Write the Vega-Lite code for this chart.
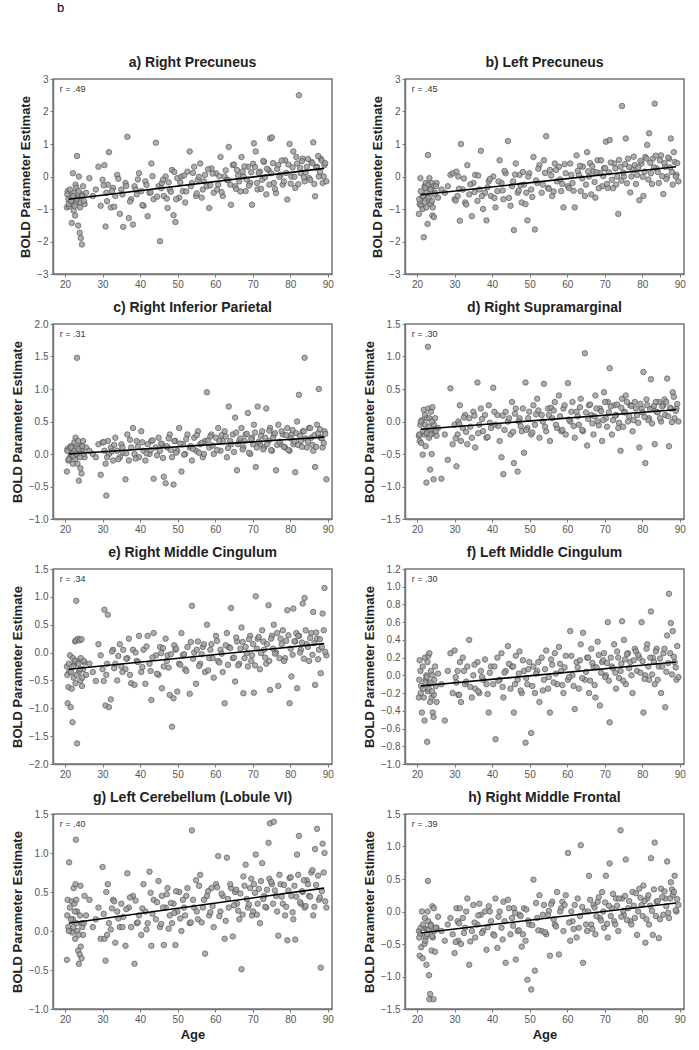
{
"$schema":"https://vega.github.io/schema/vega-lite/v6.json",
"autosize":{"type":"pad"},
"padding":{"left":10,"top":2,"right":0,"bottom":0},
"background":"white",
"title":{"text":"b","anchor":"start","frame":"group","dx":4,"offset":40,"fontSize":13,"fontWeight":"normal","font":"Liberation Sans","color":"#000000"},
"config":{
"font":"Liberation Sans",
"view":{"stroke":"#777777","strokeWidth":1.5},
"axis":{"domainColor":"#777777","domainWidth":1.5,"tickColor":"#777777","tickSize":3,"labelFont":"Liberation Sans","labelFontSize":10,"labelColor":"#555555","labelPadding":2,"labelOverlap":false,"titleFont":"Liberation Sans","titleFontSize":13,"titleFontWeight":"bold","titleColor":"#222222","titlePadding":4,"grid":false},
"axisX":{"values":[20,30,40,50,60,70,80,90]},
"title":{"font":"Liberation Sans","fontSize":14,"fontWeight":"bold","color":"#222222","offset":4,"anchor":"middle"}
},
"datasets":{
"stats":[{"ra":"r = .49","rb":"r = .45","rc":"r = .31","rd":"r = .30","re":"r = .34","rf":"r = .30","rg":"r = .40","rh":"r = .39"}],
"fits":[{"age":21,"a":-0.70,"b":-0.56,"c":0.0,"d":-0.12,"e":-0.30,"f":-0.12,"g":0.10,"h":-0.33},{"age":89,"a":0.25,"b":0.30,"c":0.26,"d":0.18,"e":0.16,"f":0.15,"g":0.55,"h":0.13}],
"subjects":[
{"age":20.5,"a":-0.95,"b":-1.15,"c":-0.27,"d":-0.22,"e":-0.25,"f":-0.25,"g":-0.37,"h":-0.30},
{"age":20.7,"a":-0.45,"b":-0.85,"c":0.08,"d":-0.30,"e":-0.91,"f":0.17,"g":0.40,"h":-0.68},
{"age":20.9,"a":-0.70,"b":-0.05,"c":-0.10,"d":-0.05,"e":-0.62,"f":0.05,"g":0.05,"h":-0.35},
{"age":21.1,"a":-0.92,"b":-0.90,"c":0.05,"d":-0.33,"e":-0.35,"f":-0.12,"g":0.88,"h":-0.55},
{"age":21.3,"a":-0.40,"b":-0.65,"c":-0.05,"d":0.02,"e":-0.05,"f":-0.42,"g":0.30,"h":0.00},
{"age":21.5,"a":-0.60,"b":-1.00,"c":0.12,"d":-0.51,"e":-0.98,"f":0.10,"g":0.00,"h":-0.72},
{"age":21.8,"a":-1.43,"b":-1.87,"c":-0.02,"d":0.18,"e":-0.65,"f":-0.25,"g":0.38,"h":-0.25},
{"age":22.0,"a":-0.85,"b":-0.30,"c":0.10,"d":-0.20,"e":-1.25,"f":-0.51,"g":-0.02,"h":-0.50},
{"age":22.1,"a":0.10,"b":-0.80,"c":-0.15,"d":0.10,"e":-0.10,"f":0.20,"g":0.15,"h":-0.10},
{"age":22.3,"a":-1.05,"b":-0.20,"c":0.03,"d":-0.38,"e":-0.45,"f":-0.05,"g":0.55,"h":-0.40},
{"age":22.5,"a":-0.50,"b":-0.95,"c":0.18,"d":-0.94,"e":-0.20,"f":0.00,"g":0.35,"h":-0.82},
{"age":22.7,"a":-1.20,"b":-0.60,"c":-0.08,"d":0.05,"e":0.20,"f":-0.75,"g":-0.10,"h":-0.28},
{"age":22.8,"a":-0.25,"b":-1.46,"c":0.25,"d":-0.15,"e":-0.55,"f":0.15,"g":0.60,"h":0.00},
{"age":22.9,"a":-0.80,"b":0.66,"c":0.00,"d":1.15,"e":0.22,"f":-0.18,"g":1.17,"h":0.47},
{"age":23.0,"a":-0.35,"b":-0.25,"c":0.10,"d":0.20,"e":0.93,"f":0.22,"g":0.40,"h":-0.15},
{"age":23.2,"a":0.63,"b":-0.75,"c":1.48,"d":-0.25,"e":-1.63,"f":-0.10,"g":0.25,"h":-0.98},
{"age":23.3,"a":-0.65,"b":-0.05,"c":-0.15,"d":0.05,"e":-0.15,"f":0.25,"g":0.00,"h":-1.35},
{"age":23.5,"a":-1.51,"b":-0.40,"c":0.20,"d":-0.74,"e":0.25,"f":-0.30,"g":-0.25,"h":-1.27},
{"age":23.7,"a":0.00,"b":-0.85,"c":-0.41,"d":0.15,"e":-0.35,"f":0.05,"g":-0.42,"h":-0.20},
{"age":23.9,"a":-1.73,"b":-0.20,"c":0.05,"d":-0.50,"e":0.22,"f":-0.25,"g":-0.30,"h":-0.60},
{"age":24.1,"a":-0.80,"b":-1.20,"c":-0.22,"d":0.22,"e":-0.50,"f":0.00,"g":0.58,"h":0.08},
{"age":24.2,"a":-1.89,"b":-0.95,"c":0.12,"d":-0.18,"e":-0.10,"f":-0.42,"g":-0.20,"h":-0.40},
{"age":24.4,"a":-0.55,"b":-0.30,"c":-0.30,"d":-0.89,"e":0.24,"f":-0.47,"g":-0.35,"h":-1.35},
{"age":24.5,"a":-2.09,"b":-1.25,"c":0.08,"d":-0.05,"e":-0.60,"f":-0.22,"g":0.10,"h":0.05},
{"age":24.8,"a":-0.30,"b":-0.50,"c":0.20,"d":0.05,"e":-0.30,"f":0.10,"g":-0.05,"h":-0.62},
{"age":25.2,"a":-0.85,"b":-0.20,"c":-0.05,"d":-0.22,"e":-0.18,"f":-0.30,"g":0.45,"h":-0.25},
{"age":25.6,"a":-0.50,"b":-0.65,"c":0.10,"d":-0.10,"e":-0.40,"f":0.02,"g":0.20,"h":-0.08},
{"age":26.5,"a":-0.05,"b":-0.40,"c":0.05,"d":-0.88,"e":-0.20,"f":-0.10,"g":0.40,"h":-0.30},
{"age":27.4,"a":-0.60,"b":-0.50,"c":0.00,"d":-0.20,"e":-0.35,"f":-0.51,"g":0.05,"h":-0.45},
{"age":28.2,"a":-0.40,"b":-0.30,"c":-0.05,"d":-0.59,"e":-0.51,"f":0.05,"g":0.15,"h":-0.20},
{"age":28.9,"a":0.30,"b":0.05,"c":0.15,"d":0.51,"e":0.15,"f":0.25,"g":0.30,"h":-0.10},
{"age":29.5,"a":-0.90,"b":0.10,"c":-0.32,"d":-0.35,"e":-0.05,"f":-0.20,"g":-0.10,"h":-0.35},
{"age":30.0,"a":-0.10,"b":-0.70,"c":0.18,"d":-0.05,"e":-0.30,"f":0.28,"g":0.82,"h":-0.64},
{"age":30.5,"a":0.35,"b":0.15,"c":0.05,"d":-0.69,"e":0.77,"f":-0.08,"g":-0.10,"h":0.05},
{"age":30.8,"a":-1.54,"b":-0.60,"c":-0.15,"d":-0.20,"e":-0.95,"f":0.05,"g":-0.38,"h":-0.15},
{"age":31.0,"a":-0.50,"b":0.00,"c":-0.64,"d":0.00,"e":-0.40,"f":-0.22,"g":0.50,"h":-0.45},
{"age":31.4,"a":-0.25,"b":-1.36,"c":0.20,"d":0.25,"e":0.68,"f":0.15,"g":0.60,"h":0.05},
{"age":31.7,"a":0.75,"b":1.00,"c":0.00,"d":-0.30,"e":-0.98,"f":-0.30,"g":0.10,"h":-0.50},
{"age":32.2,"a":-0.95,"b":-0.40,"c":0.10,"d":-0.10,"e":-0.84,"f":0.20,"g":0.02,"h":-0.10},
{"age":32.8,"a":-0.35,"b":-0.80,"c":-0.10,"d":0.10,"e":0.05,"f":-0.10,"g":0.40,"h":-0.25},
{"age":33.4,"a":-0.60,"b":0.35,"c":0.25,"d":-0.35,"e":-0.20,"f":0.10,"g":-0.15,"h":0.20},
{"age":33.9,"a":0.05,"b":-0.55,"c":0.05,"d":0.05,"e":-0.50,"f":0.40,"g":0.25,"h":-0.82},
{"age":34.6,"a":-1.15,"b":-1.22,"c":-0.05,"d":-0.25,"e":0.15,"f":-0.25,"g":0.05,"h":-0.30},
{"age":35.0,"a":-0.40,"b":-0.20,"c":0.15,"d":0.15,"e":-0.25,"f":0.00,"g":0.35,"h":0.10},
{"age":35.5,"a":-1.55,"b":0.05,"c":0.02,"d":-0.40,"e":0.05,"f":-0.15,"g":0.18,"h":-0.40},
{"age":36.1,"a":-0.20,"b":-0.75,"c":-0.39,"d":0.60,"e":-0.30,"f":0.15,"g":-0.19,"h":-0.20},
{"age":36.6,"a":1.22,"b":-0.40,"c":0.30,"d":-0.05,"e":-0.10,"f":-0.20,"g":0.74,"h":0.12},
{"age":37.0,"a":-1.28,"b":0.79,"c":-0.10,"d":0.20,"e":0.25,"f":0.05,"g":0.30,"h":-0.05},
{"age":37.6,"a":-0.70,"b":-1.00,"c":0.10,"d":-0.15,"e":-0.55,"f":-0.05,"g":0.05,"h":-0.30},
{"age":38.1,"a":-1.48,"b":-0.50,"c":0.40,"d":0.10,"e":0.05,"f":0.18,"g":0.45,"h":0.00},
{"age":38.5,"a":-0.30,"b":-1.35,"c":0.00,"d":-0.25,"e":-0.58,"f":-0.10,"g":-0.42,"h":-0.59},
{"age":39.1,"a":-0.55,"b":-0.15,"c":0.20,"d":0.25,"e":-0.15,"f":-0.42,"g":0.10,"h":0.08},
{"age":39.7,"a":0.10,"b":-0.60,"c":-0.05,"d":-0.10,"e":0.30,"f":0.10,"g":0.20,"h":-0.15},
{"age":40.3,"a":-0.45,"b":0.00,"c":0.35,"d":0.52,"e":-0.35,"f":-0.10,"g":-0.05,"h":-0.35},
{"age":40.9,"a":-0.90,"b":-0.95,"c":0.05,"d":-0.05,"e":0.05,"f":-0.72,"g":0.60,"h":0.20},
{"age":41.4,"a":-0.15,"b":-0.45,"c":-0.10,"d":0.10,"e":-0.56,"f":0.20,"g":0.25,"h":-0.56},
{"age":42.0,"a":-1.22,"b":0.50,"c":0.15,"d":-0.30,"e":0.30,"f":-0.05,"g":0.10,"h":0.00},
{"age":42.5,"a":-0.50,"b":-0.20,"c":0.00,"d":-0.55,"e":-0.20,"f":0.25,"g":0.76,"h":-0.25},
{"age":43.0,"a":0.40,"b":-0.70,"c":0.20,"d":-0.81,"e":-0.85,"f":-0.25,"g":-0.19,"h":0.15},
{"age":43.6,"a":-0.70,"b":0.10,"c":-0.38,"d":0.15,"e":0.35,"f":0.05,"g":0.40,"h":-0.79},
{"age":44.2,"a":1.04,"b":1.09,"c":0.10,"d":0.00,"e":-0.05,"f":0.33,"g":0.15,"h":0.18},
{"age":44.9,"a":-0.30,"b":-0.90,"c":0.25,"d":-0.20,"e":-0.40,"f":-0.15,"g":0.64,"h":-0.35},
{"age":45.3,"a":-1.99,"b":-0.30,"c":0.05,"d":0.30,"e":0.10,"f":0.10,"g":0.05,"h":-0.10},
{"age":45.8,"a":-0.20,"b":-1.65,"c":0.15,"d":-0.64,"e":-0.64,"f":-0.42,"g":0.45,"h":0.05},
{"age":46.3,"a":-0.60,"b":0.40,"c":-0.35,"d":0.20,"e":-0.25,"f":0.22,"g":-0.18,"h":-0.74},
{"age":46.8,"a":0.00,"b":-0.50,"c":-0.45,"d":-0.77,"e":0.25,"f":-0.05,"g":0.30,"h":-0.30},
{"age":47.3,"a":-0.97,"b":0.05,"c":0.10,"d":0.05,"e":-0.05,"f":0.27,"g":0.55,"h":-0.05},
{"age":47.9,"a":-0.40,"b":-0.80,"c":0.30,"d":-0.15,"e":-0.76,"f":-0.20,"g":0.20,"h":-0.54},
{"age":48.5,"a":0.20,"b":-0.25,"c":-0.05,"d":-0.48,"e":-1.33,"f":0.05,"g":0.10,"h":0.05},
{"age":48.9,"a":-1.19,"b":-0.85,"c":-0.47,"d":0.60,"e":-0.82,"f":-0.76,"g":0.35,"h":-0.45},
{"age":49.4,"a":-1.40,"b":-1.35,"c":0.20,"d":-0.10,"e":0.05,"f":-0.10,"g":-0.18,"h":-1.05},
{"age":49.9,"a":-0.05,"b":0.10,"c":0.05,"d":0.15,"e":-0.70,"f":0.15,"g":0.25,"h":-0.20},
{"age":50.4,"a":-0.65,"b":-0.40,"c":0.40,"d":-0.20,"e":-0.20,"f":-0.65,"g":0.50,"h":-1.20},
{"age":51.0,"a":0.00,"b":0.60,"c":-0.27,"d":0.25,"e":0.35,"f":0.10,"g":0.00,"h":0.49},
{"age":51.4,"a":-0.45,"b":-1.63,"c":0.15,"d":-0.05,"e":-0.05,"f":-0.20,"g":0.40,"h":-0.91},
{"age":52.0,"a":-0.80,"b":-0.20,"c":0.00,"d":0.35,"e":-0.30,"f":0.05,"g":0.20,"h":-0.10},
{"age":52.6,"a":0.15,"b":0.35,"c":0.30,"d":-0.25,"e":0.10,"f":-0.30,"g":0.55,"h":0.25},
{"age":53.2,"a":0.77,"b":-0.50,"c":0.10,"d":0.10,"e":-0.74,"f":0.20,"g":0.10,"h":-0.30},
{"age":53.8,"a":-0.20,"b":0.50,"c":-0.10,"d":0.58,"e":0.84,"f":-0.05,"g":1.29,"h":0.10},
{"age":54.4,"a":0.30,"b":1.24,"c":0.25,"d":-0.15,"e":0.00,"f":0.28,"g":0.30,"h":-0.35},
{"age":54.9,"a":-0.60,"b":-0.35,"c":0.05,"d":0.20,"e":-0.56,"f":-0.15,"g":0.65,"h":-0.05},
{"age":55.4,"a":-0.10,"b":0.20,"c":0.35,"d":-0.30,"e":0.20,"f":-0.42,"g":0.15,"h":-0.68},
{"age":56.0,"a":0.40,"b":-0.60,"c":0.15,"d":0.05,"e":-0.20,"f":0.12,"g":0.72,"h":0.15},
{"age":56.7,"a":-0.40,"b":0.40,"c":-0.05,"d":0.30,"e":0.10,"f":0.25,"g":0.30,"h":-0.20},
{"age":57.3,"a":0.05,"b":-0.15,"c":0.20,"d":-0.10,"e":-0.35,"f":-0.10,"g":-0.29,"h":0.30},
{"age":57.8,"a":-0.30,"b":0.30,"c":0.95,"d":0.40,"e":0.50,"f":0.32,"g":0.45,"h":-0.66},
{"age":58.4,"a":-0.97,"b":-0.45,"c":0.10,"d":-0.15,"e":-0.10,"f":0.05,"g":0.20,"h":0.05},
{"age":59.0,"a":0.25,"b":-0.95,"c":0.30,"d":0.20,"e":0.15,"f":-0.20,"g":0.55,"h":-0.30},
{"age":59.6,"a":-0.50,"b":0.10,"c":0.00,"d":-0.20,"e":-0.45,"f":0.22,"g":0.05,"h":0.25},
{"age":60.2,"a":0.10,"b":-0.30,"c":0.25,"d":0.59,"e":0.30,"f":-0.05,"g":0.60,"h":0.90},
{"age":60.8,"a":-0.25,"b":0.40,"c":0.40,"d":0.00,"e":-0.15,"f":0.50,"g":0.96,"h":-0.45},
{"age":61.4,"a":0.60,"b":-0.20,"c":0.05,"d":0.30,"e":0.05,"f":0.00,"g":0.25,"h":-0.15},
{"age":62.0,"a":-0.60,"b":-0.95,"c":0.20,"d":-0.25,"e":-0.35,"f":-0.38,"g":0.45,"h":0.10},
{"age":62.5,"a":0.00,"b":0.65,"c":0.35,"d":0.15,"e":-0.91,"f":0.15,"g":-0.10,"h":-0.40},
{"age":63.1,"a":-0.10,"b":0.05,"c":-0.05,"d":-0.05,"e":0.35,"f":-0.15,"g":0.94,"h":-0.25},
{"age":63.6,"a":0.91,"b":-0.45,"c":0.73,"d":0.35,"e":0.10,"f":0.35,"g":0.30,"h":1.02},
{"age":64.2,"a":-0.87,"b":0.30,"c":0.15,"d":-0.15,"e":0.80,"f":0.48,"g":0.55,"h":-0.79},
{"age":64.7,"a":0.35,"b":-0.60,"c":0.30,"d":1.05,"e":-0.10,"f":-0.05,"g":-0.07,"h":0.00},
{"age":65.3,"a":-0.30,"b":0.75,"c":0.56,"d":-0.37,"e":-0.52,"f":0.20,"g":0.50,"h":-0.30},
{"age":65.8,"a":0.20,"b":0.00,"c":-0.25,"d":0.25,"e":0.20,"f":-0.20,"g":0.35,"h":0.55},
{"age":66.4,"a":-0.15,"b":-0.55,"c":0.20,"d":0.10,"e":-0.20,"f":0.30,"g":0.15,"h":-0.20},
{"age":67.0,"a":0.60,"b":0.15,"c":0.40,"d":-0.20,"e":0.45,"f":0.10,"g":-0.49,"h":0.10},
{"age":67.5,"a":0.00,"b":-0.65,"c":0.10,"d":0.40,"e":-0.73,"f":-0.25,"g":0.70,"h":-0.35},
{"age":68.1,"a":-0.45,"b":0.50,"c":0.30,"d":0.00,"e":0.10,"f":0.38,"g":0.85,"h":0.15},
{"age":68.7,"a":0.30,"b":0.10,"c":0.63,"d":0.20,"e":-0.25,"f":-0.34,"g":0.30,"h":-0.10},
{"age":69.3,"a":-0.20,"b":-0.30,"c":0.00,"d":-0.30,"e":0.30,"f":0.15,"g":0.55,"h":0.30},
{"age":69.8,"a":-0.87,"b":0.25,"c":0.25,"d":0.45,"e":-0.05,"f":0.25,"g":0.20,"h":-0.25},
{"age":70.3,"a":1.02,"b":1.07,"c":0.45,"d":0.05,"e":-0.72,"f":0.00,"g":0.60,"h":0.55},
{"age":70.8,"a":0.77,"b":-0.35,"c":-0.20,"d":0.30,"e":1.01,"f":0.60,"g":0.98,"h":-0.40},
{"age":71.3,"a":-0.40,"b":1.12,"c":0.73,"d":0.82,"e":0.25,"f":-0.53,"g":0.35,"h":0.74},
{"age":71.9,"a":0.15,"b":-0.10,"c":0.15,"d":-0.20,"e":-0.30,"f":0.10,"g":0.10,"h":0.05},
{"age":72.5,"a":-0.10,"b":0.40,"c":0.35,"d":0.25,"e":0.40,"f":0.35,"g":0.87,"h":-0.15},
{"age":73.0,"a":0.45,"b":-0.25,"c":0.10,"d":0.10,"e":0.05,"f":-0.15,"g":0.45,"h":0.20},
{"age":73.6,"a":-0.55,"b":-1.15,"c":0.70,"d":-0.10,"e":-0.20,"f":0.20,"g":0.30,"h":-0.30},
{"age":74.2,"a":0.20,"b":0.30,"c":0.20,"d":-0.45,"e":0.85,"f":0.05,"g":1.13,"h":1.25},
{"age":74.6,"a":1.17,"b":2.17,"c":0.40,"d":0.35,"e":-0.67,"f":0.61,"g":1.38,"h":0.20},
{"age":75.1,"a":1.20,"b":0.00,"c":0.05,"d":0.15,"e":0.30,"f":0.40,"g":0.60,"h":-0.05},
{"age":75.6,"a":-0.20,"b":1.17,"c":0.30,"d":0.40,"e":0.50,"f":-0.10,"g":1.40,"h":0.80},
{"age":76.2,"a":-0.51,"b":0.55,"c":-0.25,"d":0.00,"e":0.00,"f":0.25,"g":0.45,"h":0.05},
{"age":76.8,"a":0.35,"b":-0.49,"c":0.45,"d":0.25,"e":-0.60,"f":0.15,"g":-0.06,"h":-0.15},
{"age":77.4,"a":0.05,"b":0.20,"c":0.15,"d":-0.15,"e":0.25,"f":-0.20,"g":0.60,"h":0.30},
{"age":78.0,"a":-0.25,"b":0.35,"c":0.30,"d":0.30,"e":0.40,"f":0.30,"g":0.35,"h":-0.10},
{"age":78.6,"a":0.50,"b":0.05,"c":0.10,"d":0.10,"e":-0.10,"f":0.05,"g":0.20,"h":-0.36},
{"age":79.2,"a":-0.71,"b":-0.73,"c":0.40,"d":-0.40,"e":0.76,"f":0.20,"g":-0.12,"h":0.35},
{"age":79.8,"a":1.00,"b":0.40,"c":0.05,"d":0.20,"e":-0.91,"f":0.60,"g":0.68,"h":0.10},
{"age":80.3,"a":0.00,"b":-0.60,"c":0.30,"d":0.76,"e":-0.43,"f":-0.42,"g":0.45,"h":0.40},
{"age":80.8,"a":0.77,"b":0.60,"c":0.15,"d":-0.64,"e":0.79,"f":0.00,"g":0.15,"h":-0.48},
{"age":81.3,"a":-0.35,"b":0.97,"c":-0.28,"d":0.25,"e":0.20,"f":0.35,"g":-0.11,"h":0.20},
{"age":81.8,"a":0.40,"b":1.33,"c":0.50,"d":0.05,"e":-0.64,"f":-0.05,"g":0.98,"h":-0.20},
{"age":82.3,"a":2.50,"b":0.10,"c":0.91,"d":0.65,"e":0.30,"f":0.72,"g":1.22,"h":0.82},
{"age":82.8,"a":0.10,"b":0.55,"c":0.20,"d":0.20,"e":0.05,"f":0.20,"g":0.35,"h":-0.36},
{"age":83.3,"a":0.55,"b":2.24,"c":0.35,"d":-0.35,"e":0.88,"f":-0.10,"g":0.50,"h":1.06},
{"age":83.8,"a":-0.15,"b":0.25,"c":1.48,"d":0.15,"e":0.98,"f":0.30,"g":0.30,"h":0.15},
{"age":84.4,"a":0.30,"b":-0.20,"c":0.10,"d":0.30,"e":0.15,"f":0.10,"g":0.65,"h":-0.41},
{"age":85.0,"a":-0.05,"b":0.65,"c":0.40,"d":0.00,"e":-0.15,"f":-0.20,"g":0.45,"h":0.35},
{"age":85.6,"a":0.45,"b":-0.54,"c":0.25,"d":0.25,"e":0.35,"f":0.25,"g":0.75,"h":-0.05},
{"age":86.1,"a":1.05,"b":0.30,"c":0.05,"d":0.10,"e":0.73,"f":-0.36,"g":0.20,"h":0.20},
{"age":86.6,"a":-0.61,"b":0.00,"c":-0.20,"d":0.66,"e":-0.58,"f":0.45,"g":1.05,"h":0.77},
{"age":87.1,"a":0.30,"b":0.55,"c":0.45,"d":-0.38,"e":0.25,"f":0.92,"g":1.31,"h":-0.10},
{"age":87.6,"a":0.00,"b":1.17,"c":1.00,"d":0.20,"e":0.05,"f":0.59,"g":0.40,"h":0.45},
{"age":88.1,"a":0.55,"b":-0.25,"c":0.25,"d":0.45,"e":-0.37,"f":0.50,"g":-0.47,"h":0.25},
{"age":88.6,"a":-0.20,"b":0.45,"c":0.10,"d":0.05,"e":0.70,"f":0.15,"g":1.12,"h":0.55},
{"age":89.1,"a":0.35,"b":0.05,"c":0.35,"d":0.20,"e":1.16,"f":-0.05,"g":1.00,"h":0.00},
{"age":89.6,"a":-0.15,"b":-0.15,"c":-0.39,"d":0.00,"e":-0.05,"f":-0.02,"g":0.30,"h":0.10},
{"age":20.6,"a":-0.55,"b":-0.70,"c":0.05,"d":-0.20,"e":-0.40,"f":-0.05,"g":0.20,"h":-0.40},
{"age":21.0,"a":-0.85,"b":-0.45,"c":-0.08,"d":0.00,"e":-0.20,"f":-0.20,"g":0.00,"h":-0.25},
{"age":21.6,"a":-0.75,"b":-0.60,"c":0.10,"d":-0.15,"e":-0.35,"f":-0.15,"g":0.15,"h":-0.20},
{"age":22.2,"a":-0.60,"b":-0.35,"c":-0.03,"d":-0.05,"e":-0.25,"f":-0.08,"g":0.05,"h":-0.45},
{"age":22.6,"a":-0.90,"b":-0.50,"c":0.05,"d":-0.18,"e":-0.15,"f":-0.02,"g":0.25,"h":-0.35},
{"age":23.1,"a":-0.70,"b":-0.65,"c":0.00,"d":-0.08,"e":-0.40,"f":-0.15,"g":0.10,"h":-0.28},
{"age":23.6,"a":-0.45,"b":-0.40,"c":0.08,"d":-0.20,"e":-0.20,"f":-0.08,"g":-0.05,"h":-0.22},
{"age":24.0,"a":-0.95,"b":-0.75,"c":-0.05,"d":0.00,"e":-0.30,"f":-0.18,"g":0.20,"h":-0.38},
{"age":24.6,"a":-0.60,"b":-0.55,"c":0.12,"d":-0.12,"e":-0.45,"f":-0.05,"g":0.05,"h":-0.30},
{"age":25.0,"a":-0.75,"b":-0.30,"c":0.00,"d":-0.15,"e":-0.15,"f":-0.12,"g":0.10,"h":-0.25},
{"age":30.3,"a":-0.27,"b":-0.74,"c":0.18,"d":-0.26,"e":-0.51,"f":-0.02,"g":0.22,"h":-0.47},
{"age":31.2,"a":-0.76,"b":-0.38,"c":-0.05,"d":-0.04,"e":-0.20,"f":-0.22,"g":-0.05,"h":-0.18},
{"age":32.5,"a":-0.44,"b":-0.06,"c":0.04,"d":0.06,"e":0.02,"f":0.05,"g":0.29,"h":-0.33},
{"age":33.1,"a":-0.93,"b":-0.86,"c":0.14,"d":-0.16,"e":-0.28,"f":-0.07,"g":0.38,"h":0.00},
{"age":34.2,"a":-0.07,"b":-0.24,"c":-0.08,"d":-0.08,"e":-0.06,"f":-0.13,"g":0.16,"h":-0.46},
{"age":35.3,"a":-0.55,"b":-0.48,"c":0.10,"d":0.09,"e":-0.35,"f":0.12,"g":0.05,"h":-0.17},
{"age":36.3,"a":-0.29,"b":0.03,"c":0.01,"d":-0.18,"e":-0.11,"f":-0.18,"g":0.28,"h":-0.06},
{"age":37.3,"a":-0.77,"b":-0.60,"c":0.22,"d":0.04,"e":-0.40,"f":-0.02,"g":0.43,"h":-0.33},
{"age":38.8,"a":-0.40,"b":-0.33,"c":-0.07,"d":-0.24,"e":0.00,"f":-0.21,"g":0.39,"h":-0.24},
{"age":39.4,"a":-0.09,"b":-0.08,"c":0.11,"d":-0.02,"e":-0.17,"f":0.03,"g":0.11,"h":0.00},
{"age":40.6,"a":-0.88,"b":-0.66,"c":0.18,"d":0.15,"e":-0.26,"f":0.10,"g":0.29,"h":-0.37},
{"age":41.7,"a":-0.26,"b":-0.15,"c":0.01,"d":-0.07,"e":0.11,"f":-0.06,"g":0.02,"h":-0.08},
{"age":42.8,"a":-0.49,"b":-0.43,"c":0.06,"d":0.09,"e":-0.33,"f":-0.13,"g":0.49,"h":-0.43},
{"age":43.3,"a":0.01,"b":0.17,"c":0.21,"d":-0.13,"e":-0.09,"f":0.03,"g":0.22,"h":-0.15},
{"age":44.5,"a":-0.62,"b":-0.66,"c":-0.02,"d":0.05,"e":-0.38,"f":0.13,"g":0.37,"h":0.05},
{"age":45.6,"a":-0.36,"b":-0.15,"c":0.16,"d":-0.16,"e":-0.01,"f":0.10,"g":0.09,"h":-0.22},
{"age":46.1,"a":-0.10,"b":0.06,"c":-0.06,"d":0.12,"e":0.08,"f":-0.10,"g":0.30,"h":-0.02},
{"age":47.1,"a":-0.68,"b":-0.43,"c":0.12,"d":0.00,"e":-0.15,"f":0.02,"g":0.47,"h":-0.29},
{"age":47.6,"a":-0.18,"b":-0.27,"c":0.24,"d":-0.07,"e":-0.27,"f":-0.17,"g":0.03,"h":-0.07},
{"age":48.2,"a":-0.47,"b":0.14,"c":0.06,"d":0.20,"e":-0.03,"f":0.17,"g":0.36,"h":-0.35},
{"age":49.1,"a":0.14,"b":-0.50,"c":0.20,"d":-0.13,"e":0.13,"f":-0.03,"g":0.23,"h":0.03},
{"age":49.6,"a":-0.70,"b":0.00,"c":0.02,"d":0.05,"e":0.07,"f":0.07,"g":0.51,"h":-0.14},
{"age":50.7,"a":-0.18,"b":-0.63,"c":0.16,"d":-0.17,"e":-0.22,"f":-0.12,"g":0.16,"h":-0.21},
{"age":51.7,"a":0.03,"b":-0.12,"c":-0.01,"d":0.11,"e":-0.03,"f":0.02,"g":0.30,"h":0.13},
{"age":52.3,"a":-0.46,"b":0.24,"c":0.23,"d":0.17,"e":-0.33,"f":0.15,"g":0.45,"h":-0.29},
{"age":53.5,"a":-0.30,"b":-0.25,"c":0.12,"d":0.00,"e":0.19,"f":-0.17,"g":0.11,"h":-0.05},
{"age":54.1,"a":0.11,"b":0.11,"c":0.08,"d":-0.08,"e":-0.11,"f":0.07,"g":0.40,"h":-0.32},
{"age":55.1,"a":-0.52,"b":-0.38,"c":0.29,"d":0.10,"e":0.05,"f":-0.02,"g":0.25,"h":0.01},
{"age":55.7,"a":-0.01,"b":0.03,"c":0.02,"d":0.21,"e":-0.24,"f":0.18,"g":0.58,"h":0.11},
{"age":56.4,"a":-0.65,"b":-0.46,"c":0.17,"d":0.17,"e":-0.03,"f":-0.08,"g":0.11,"h":-0.12},
{"age":57.0,"a":-0.15,"b":0.20,"c":0.00,"d":-0.05,"e":0.15,"f":0.02,"g":0.40,"h":-0.23},
{"age":58.1,"a":0.22,"b":-0.09,"c":0.21,"d":0.08,"e":-0.32,"f":0.13,"g":0.51,"h":0.00},
{"age":58.7,"a":-0.27,"b":-0.23,"c":0.27,"d":-0.13,"e":0.05,"f":-0.11,"g":0.24,"h":0.15},
{"age":59.3,"a":0.09,"b":0.38,"c":0.13,"d":0.25,"e":-0.10,"f":0.09,"g":0.32,"h":0.10},
{"age":60.5,"a":-0.40,"b":-0.36,"c":0.06,"d":0.03,"e":0.21,"f":-0.02,"g":0.56,"h":-0.17},
{"age":61.1,"a":0.01,"b":0.05,"c":0.20,"d":0.15,"e":-0.18,"f":0.22,"g":0.19,"h":0.00},
{"age":61.7,"a":-0.48,"b":-0.44,"c":0.29,"d":-0.07,"e":-0.02,"f":-0.12,"g":0.48,"h":-0.27},
{"age":62.8,"a":0.19,"b":0.17,"c":0.27,"d":0.08,"e":0.13,"f":0.09,"g":0.13,"h":0.20},
{"age":63.4,"a":-0.11,"b":0.33,"c":0.09,"d":0.22,"e":-0.22,"f":0.17,"g":0.41,"h":-0.07},
{"age":64.0,"a":-0.25,"b":-0.06,"c":0.20,"d":-0.13,"e":0.08,"f":-0.03,"g":0.60,"h":0.07},
{"age":65.0,"a":0.37,"b":-0.25,"c":0.03,"d":0.14,"e":-0.09,"f":0.04,"g":0.33,"h":-0.20},
{"age":65.6,"a":-0.38,"b":0.16,"c":0.33,"d":0.04,"e":0.27,"f":0.20,"g":0.53,"h":0.00},
{"age":66.1,"a":0.03,"b":0.41,"c":0.15,"d":0.26,"e":-0.23,"f":-0.06,"g":0.26,"h":0.18},
{"age":66.7,"a":-0.46,"b":0.32,"c":0.24,"d":-0.03,"e":0.07,"f":0.14,"g":0.48,"h":-0.27},
{"age":67.3,"a":0.15,"b":-0.17,"c":0.07,"d":0.08,"e":0.19,"f":-0.11,"g":0.21,"h":0.06},
{"age":67.8,"a":0.31,"b":0.13,"c":0.20,"d":0.20,"e":-0.10,"f":0.09,"g":0.58,"h":-0.07},
{"age":68.4,"a":-0.09,"b":-0.36,"c":0.31,"d":-0.06,"e":-0.01,"f":0.23,"g":0.41,"h":0.22},
{"age":69.0,"a":-0.28,"b":0.50,"c":0.02,"d":0.16,"e":0.24,"f":0.03,"g":0.34,"h":-0.14},
{"age":69.6,"a":0.13,"b":0.01,"c":0.23,"d":0.02,"e":-0.15,"f":0.17,"g":0.67,"h":0.00},
{"age":70.1,"a":0.39,"b":0.26,"c":0.15,"d":0.30,"e":0.15,"f":-0.02,"g":0.25,"h":0.14},
{"age":70.6,"a":0.29,"b":-0.23,"c":0.33,"d":-0.08,"e":-0.23,"f":0.14,"g":0.49,"h":-0.19},
{"age":71.1,"a":-0.20,"b":0.13,"c":0.10,"d":0.14,"e":0.07,"f":-0.06,"g":0.21,"h":0.09},
{"age":71.6,"a":0.11,"b":0.43,"c":0.19,"d":0.23,"e":0.28,"f":0.20,"g":0.54,"h":-0.07},
{"age":72.2,"a":-0.38,"b":-0.36,"c":0.28,"d":0.02,"e":-0.01,"f":0.08,"g":0.64,"h":0.27},
{"age":72.8,"a":0.48,"b":0.25,"c":0.07,"d":0.09,"e":0.20,"f":0.03,"g":0.41,"h":-0.20},
{"age":73.3,"a":-0.02,"b":0.00,"c":0.25,"d":0.26,"e":-0.09,"f":0.27,"g":0.31,"h":0.09},
{"age":73.8,"a":0.24,"b":0.51,"c":0.15,"d":-0.02,"e":0.15,"f":-0.03,"g":0.53,"h":0.20},
{"age":74.4,"a":-0.25,"b":-0.13,"c":0.36,"d":0.21,"e":-0.15,"f":0.13,"g":0.67,"h":-0.08},
{"age":74.9,"a":0.10,"b":0.12,"c":0.06,"d":-0.08,"e":0.25,"f":-0.06,"g":0.63,"h":0.01},
{"age":75.4,"a":0.41,"b":0.38,"c":0.25,"d":0.14,"e":0.07,"f":0.18,"g":0.35,"h":0.24},
{"age":75.9,"a":-0.38,"b":-0.21,"c":0.32,"d":0.30,"e":-0.02,"f":0.24,"g":0.52,"h":-0.13},
{"age":76.5,"a":0.23,"b":0.29,"c":0.14,"d":0.08,"e":0.35,"f":0.08,"g":0.25,"h":0.16},
{"age":77.1,"a":-0.01,"b":0.00,"c":0.19,"d":0.24,"e":-0.10,"f":0.00,"g":0.72,"h":-0.20},
{"age":77.7,"a":0.49,"b":0.61,"c":0.35,"d":0.02,"e":0.15,"f":0.17,"g":0.44,"h":0.09},
{"age":78.3,"a":-0.15,"b":-0.23,"c":0.11,"d":0.20,"e":-0.15,"f":0.27,"g":0.59,"h":0.28},
{"age":78.9,"a":0.11,"b":0.28,"c":0.29,"d":-0.02,"e":0.21,"f":0.23,"g":0.31,"h":0.00},
{"age":79.5,"a":0.37,"b":0.48,"c":0.06,"d":0.27,"e":0.31,"f":0.03,"g":0.52,"h":0.21},
{"age":80.1,"a":-0.22,"b":-0.01,"c":0.24,"d":0.14,"e":0.07,"f":0.16,"g":0.69,"h":-0.07},
{"age":80.6,"a":0.28,"b":0.15,"c":0.37,"d":0.07,"e":-0.04,"f":-0.04,"g":0.24,"h":0.16},
{"age":81.1,"a":-0.01,"b":0.55,"c":0.19,"d":0.34,"e":0.20,"f":0.30,"g":0.58,"h":-0.12},
{"age":81.6,"a":0.60,"b":-0.09,"c":0.32,"d":0.02,"e":0.35,"f":0.10,"g":0.44,"h":0.25},
{"age":82.1,"a":-0.24,"b":0.42,"c":0.14,"d":0.19,"e":0.30,"f":0.20,"g":0.72,"h":0.09},
{"age":82.6,"a":0.26,"b":-0.23,"c":0.28,"d":-0.03,"e":0.00,"f":0.01,"g":0.37,"h":0.01},
{"age":83.1,"a":0.47,"b":0.28,"c":0.11,"d":0.24,"e":0.18,"f":0.15,"g":0.51,"h":0.34},
{"age":83.6,"a":-0.02,"b":0.64,"c":0.35,"d":0.30,"e":-0.11,"f":0.27,"g":0.65,"h":-0.07},
{"age":84.1,"a":0.13,"b":0.14,"c":0.24,"d":0.14,"e":0.40,"f":-0.05,"g":0.32,"h":0.16},
{"age":84.7,"a":0.54,"b":0.50,"c":0.19,"d":0.05,"e":0.10,"f":0.19,"g":0.60,"h":-0.12},
{"age":85.3,"a":-0.10,"b":0.01,"c":0.40,"d":0.23,"e":0.26,"f":0.10,"g":0.44,"h":0.22},
{"age":85.9,"a":0.41,"b":0.41,"c":0.14,"d":0.34,"e":-0.04,"f":0.30,"g":0.78,"h":0.31},
{"age":86.4,"a":-0.23,"b":-0.08,"c":0.29,"d":0.30,"e":0.17,"f":0.04,"g":0.31,"h":0.08},
{"age":86.9,"a":0.27,"b":0.58,"c":0.11,"d":0.08,"e":0.36,"f":0.14,"g":0.59,"h":-0.02},
{"age":87.4,"a":0.63,"b":0.28,"c":0.32,"d":0.21,"e":-0.12,"f":0.25,"g":0.71,"h":0.20},
{"age":87.9,"a":0.14,"b":0.14,"c":0.38,"d":-0.01,"e":0.24,"f":0.01,"g":0.43,"h":0.34},
{"age":88.4,"a":0.49,"b":0.75,"c":0.24,"d":0.38,"e":0.10,"f":0.21,"g":0.51,"h":0.30},
{"age":88.9,"a":0.00,"b":0.00,"c":0.17,"d":0.16,"e":0.40,"f":0.09,"g":0.75,"h":0.02},
{"age":89.3,"a":0.41,"b":0.41,"c":0.31,"d":0.27,"e":0.01,"f":0.33,"g":0.38,"h":0.19}
]
},
"columns":2,
"spacing":{"row":50,"column":73},
"bounds":"flush",
"concat":[
{"width":279,"height":195,"title":"a) Right Precuneus",
"layer":[
{"data":{"name":"subjects"},"mark":{"type":"circle","size":30,"color":"#a0a0a0","opacity":0.85,"stroke":"#4d4d4d","strokeWidth":0.8},
"encoding":{"x":{"field":"age","type":"quantitative","scale":{"domain":[16.8,91.1],"nice":false,"zero":false},"axis":{"values":[20,30,40,50,60,70,80,90],"title":null}},"y":{"field":"a","type":"quantitative","scale":{"domain":[-3,3],"nice":false,"zero":false},"axis":{"values":[-3,-2,-1,0,1,2,3],"format":"d","title":"BOLD Parameter Estimate"}}}},
{"data":{"name":"fits"},"mark":{"type":"line","color":"#000000","strokeWidth":1.6},
"encoding":{"x":{"field":"age","type":"quantitative","scale":{"domain":[16.8,91.1],"nice":false,"zero":false},"axis":{"values":[20,30,40,50,60,70,80,90],"title":null}},"y":{"field":"a","type":"quantitative","scale":{"domain":[-3,3],"nice":false,"zero":false},"axis":{"values":[-3,-2,-1,0,1,2,3],"format":"d","title":"BOLD Parameter Estimate"}}}},
{"data":{"name":"stats"},"mark":{"type":"text","align":"left","baseline":"top","dx":6,"dy":6,"fontSize":9,"color":"#333333"},
"encoding":{"x":{"datum":17,"type":"quantitative","scale":{"domain":[16.8,91.1],"nice":false,"zero":false},"axis":{"values":[20,30,40,50,60,70,80,90],"title":null}},"y":{"datum":3,"type":"quantitative","scale":{"domain":[-3,3],"nice":false,"zero":false},"axis":{"values":[-3,-2,-1,0,1,2,3],"format":"d","title":"BOLD Parameter Estimate"}},"text":{"field":"ra","type":"nominal"}}}
]},
{"width":279,"height":195,"title":"b) Left Precuneus",
"layer":[
{"data":{"name":"subjects"},"mark":{"type":"circle","size":30,"color":"#a0a0a0","opacity":0.85,"stroke":"#4d4d4d","strokeWidth":0.8},
"encoding":{"x":{"field":"age","type":"quantitative","scale":{"domain":[16.8,91.1],"nice":false,"zero":false},"axis":{"values":[20,30,40,50,60,70,80,90],"title":null}},"y":{"field":"b","type":"quantitative","scale":{"domain":[-3,3],"nice":false,"zero":false},"axis":{"values":[-3,-2,-1,0,1,2,3],"format":"d","title":"BOLD Parameter Estimate"}}}},
{"data":{"name":"fits"},"mark":{"type":"line","color":"#000000","strokeWidth":1.6},
"encoding":{"x":{"field":"age","type":"quantitative","scale":{"domain":[16.8,91.1],"nice":false,"zero":false},"axis":{"values":[20,30,40,50,60,70,80,90],"title":null}},"y":{"field":"b","type":"quantitative","scale":{"domain":[-3,3],"nice":false,"zero":false},"axis":{"values":[-3,-2,-1,0,1,2,3],"format":"d","title":"BOLD Parameter Estimate"}}}},
{"data":{"name":"stats"},"mark":{"type":"text","align":"left","baseline":"top","dx":6,"dy":6,"fontSize":9,"color":"#333333"},
"encoding":{"x":{"datum":17,"type":"quantitative","scale":{"domain":[16.8,91.1],"nice":false,"zero":false},"axis":{"values":[20,30,40,50,60,70,80,90],"title":null}},"y":{"datum":3,"type":"quantitative","scale":{"domain":[-3,3],"nice":false,"zero":false},"axis":{"values":[-3,-2,-1,0,1,2,3],"format":"d","title":"BOLD Parameter Estimate"}},"text":{"field":"rb","type":"nominal"}}}
]},
{"width":279,"height":195,"title":"c) Right Inferior Parietal",
"layer":[
{"data":{"name":"subjects"},"mark":{"type":"circle","size":30,"color":"#a0a0a0","opacity":0.85,"stroke":"#4d4d4d","strokeWidth":0.8},
"encoding":{"x":{"field":"age","type":"quantitative","scale":{"domain":[16.8,91.1],"nice":false,"zero":false},"axis":{"values":[20,30,40,50,60,70,80,90],"title":null}},"y":{"field":"c","type":"quantitative","scale":{"domain":[-1,2],"nice":false,"zero":false},"axis":{"values":[-1,-0.5,0,0.5,1,1.5,2],"format":".1f","title":"BOLD Parameter Estimate"}}}},
{"data":{"name":"fits"},"mark":{"type":"line","color":"#000000","strokeWidth":1.6},
"encoding":{"x":{"field":"age","type":"quantitative","scale":{"domain":[16.8,91.1],"nice":false,"zero":false},"axis":{"values":[20,30,40,50,60,70,80,90],"title":null}},"y":{"field":"c","type":"quantitative","scale":{"domain":[-1,2],"nice":false,"zero":false},"axis":{"values":[-1,-0.5,0,0.5,1,1.5,2],"format":".1f","title":"BOLD Parameter Estimate"}}}},
{"data":{"name":"stats"},"mark":{"type":"text","align":"left","baseline":"top","dx":6,"dy":6,"fontSize":9,"color":"#333333"},
"encoding":{"x":{"datum":17,"type":"quantitative","scale":{"domain":[16.8,91.1],"nice":false,"zero":false},"axis":{"values":[20,30,40,50,60,70,80,90],"title":null}},"y":{"datum":2,"type":"quantitative","scale":{"domain":[-1,2],"nice":false,"zero":false},"axis":{"values":[-1,-0.5,0,0.5,1,1.5,2],"format":".1f","title":"BOLD Parameter Estimate"}},"text":{"field":"rc","type":"nominal"}}}
]},
{"width":279,"height":195,"title":"d) Right Supramarginal",
"layer":[
{"data":{"name":"subjects"},"mark":{"type":"circle","size":30,"color":"#a0a0a0","opacity":0.85,"stroke":"#4d4d4d","strokeWidth":0.8},
"encoding":{"x":{"field":"age","type":"quantitative","scale":{"domain":[16.8,91.1],"nice":false,"zero":false},"axis":{"values":[20,30,40,50,60,70,80,90],"title":null}},"y":{"field":"d","type":"quantitative","scale":{"domain":[-1.5,1.5],"nice":false,"zero":false},"axis":{"values":[-1.5,-1,-0.5,0,0.5,1,1.5],"format":".1f","title":"BOLD Parameter Estimate"}}}},
{"data":{"name":"fits"},"mark":{"type":"line","color":"#000000","strokeWidth":1.6},
"encoding":{"x":{"field":"age","type":"quantitative","scale":{"domain":[16.8,91.1],"nice":false,"zero":false},"axis":{"values":[20,30,40,50,60,70,80,90],"title":null}},"y":{"field":"d","type":"quantitative","scale":{"domain":[-1.5,1.5],"nice":false,"zero":false},"axis":{"values":[-1.5,-1,-0.5,0,0.5,1,1.5],"format":".1f","title":"BOLD Parameter Estimate"}}}},
{"data":{"name":"stats"},"mark":{"type":"text","align":"left","baseline":"top","dx":6,"dy":6,"fontSize":9,"color":"#333333"},
"encoding":{"x":{"datum":17,"type":"quantitative","scale":{"domain":[16.8,91.1],"nice":false,"zero":false},"axis":{"values":[20,30,40,50,60,70,80,90],"title":null}},"y":{"datum":1.5,"type":"quantitative","scale":{"domain":[-1.5,1.5],"nice":false,"zero":false},"axis":{"values":[-1.5,-1,-0.5,0,0.5,1,1.5],"format":".1f","title":"BOLD Parameter Estimate"}},"text":{"field":"rd","type":"nominal"}}}
]},
{"width":279,"height":195,"title":"e) Right Middle Cingulum",
"layer":[
{"data":{"name":"subjects"},"mark":{"type":"circle","size":30,"color":"#a0a0a0","opacity":0.85,"stroke":"#4d4d4d","strokeWidth":0.8},
"encoding":{"x":{"field":"age","type":"quantitative","scale":{"domain":[16.8,91.1],"nice":false,"zero":false},"axis":{"values":[20,30,40,50,60,70,80,90],"title":null}},"y":{"field":"e","type":"quantitative","scale":{"domain":[-2,1.5],"nice":false,"zero":false},"axis":{"values":[-2,-1.5,-1,-0.5,0,0.5,1,1.5],"format":".1f","title":"BOLD Parameter Estimate"}}}},
{"data":{"name":"fits"},"mark":{"type":"line","color":"#000000","strokeWidth":1.6},
"encoding":{"x":{"field":"age","type":"quantitative","scale":{"domain":[16.8,91.1],"nice":false,"zero":false},"axis":{"values":[20,30,40,50,60,70,80,90],"title":null}},"y":{"field":"e","type":"quantitative","scale":{"domain":[-2,1.5],"nice":false,"zero":false},"axis":{"values":[-2,-1.5,-1,-0.5,0,0.5,1,1.5],"format":".1f","title":"BOLD Parameter Estimate"}}}},
{"data":{"name":"stats"},"mark":{"type":"text","align":"left","baseline":"top","dx":6,"dy":6,"fontSize":9,"color":"#333333"},
"encoding":{"x":{"datum":17,"type":"quantitative","scale":{"domain":[16.8,91.1],"nice":false,"zero":false},"axis":{"values":[20,30,40,50,60,70,80,90],"title":null}},"y":{"datum":1.5,"type":"quantitative","scale":{"domain":[-2,1.5],"nice":false,"zero":false},"axis":{"values":[-2,-1.5,-1,-0.5,0,0.5,1,1.5],"format":".1f","title":"BOLD Parameter Estimate"}},"text":{"field":"re","type":"nominal"}}}
]},
{"width":279,"height":195,"title":"f) Left Middle Cingulum",
"layer":[
{"data":{"name":"subjects"},"mark":{"type":"circle","size":30,"color":"#a0a0a0","opacity":0.85,"stroke":"#4d4d4d","strokeWidth":0.8},
"encoding":{"x":{"field":"age","type":"quantitative","scale":{"domain":[16.8,91.1],"nice":false,"zero":false},"axis":{"values":[20,30,40,50,60,70,80,90],"title":null}},"y":{"field":"f","type":"quantitative","scale":{"domain":[-1,1.2],"nice":false,"zero":false},"axis":{"values":[-1,-0.8,-0.6,-0.4,-0.2,0,0.2,0.4,0.6,0.8,1,1.2],"format":".1f","title":"BOLD Parameter Estimate"}}}},
{"data":{"name":"fits"},"mark":{"type":"line","color":"#000000","strokeWidth":1.6},
"encoding":{"x":{"field":"age","type":"quantitative","scale":{"domain":[16.8,91.1],"nice":false,"zero":false},"axis":{"values":[20,30,40,50,60,70,80,90],"title":null}},"y":{"field":"f","type":"quantitative","scale":{"domain":[-1,1.2],"nice":false,"zero":false},"axis":{"values":[-1,-0.8,-0.6,-0.4,-0.2,0,0.2,0.4,0.6,0.8,1,1.2],"format":".1f","title":"BOLD Parameter Estimate"}}}},
{"data":{"name":"stats"},"mark":{"type":"text","align":"left","baseline":"top","dx":6,"dy":6,"fontSize":9,"color":"#333333"},
"encoding":{"x":{"datum":17,"type":"quantitative","scale":{"domain":[16.8,91.1],"nice":false,"zero":false},"axis":{"values":[20,30,40,50,60,70,80,90],"title":null}},"y":{"datum":1.2,"type":"quantitative","scale":{"domain":[-1,1.2],"nice":false,"zero":false},"axis":{"values":[-1,-0.8,-0.6,-0.4,-0.2,0,0.2,0.4,0.6,0.8,1,1.2],"format":".1f","title":"BOLD Parameter Estimate"}},"text":{"field":"rf","type":"nominal"}}}
]},
{"width":279,"height":195,"title":"g) Left Cerebellum (Lobule VI)",
"layer":[
{"data":{"name":"subjects"},"mark":{"type":"circle","size":30,"color":"#a0a0a0","opacity":0.85,"stroke":"#4d4d4d","strokeWidth":0.8},
"encoding":{"x":{"field":"age","type":"quantitative","scale":{"domain":[16.8,91.1],"nice":false,"zero":false},"axis":{"values":[20,30,40,50,60,70,80,90],"title":"Age"}},"y":{"field":"g","type":"quantitative","scale":{"domain":[-1,1.5],"nice":false,"zero":false},"axis":{"values":[-1,-0.5,0,0.5,1,1.5],"format":".1f","title":"BOLD Parameter Estimate"}}}},
{"data":{"name":"fits"},"mark":{"type":"line","color":"#000000","strokeWidth":1.6},
"encoding":{"x":{"field":"age","type":"quantitative","scale":{"domain":[16.8,91.1],"nice":false,"zero":false},"axis":{"values":[20,30,40,50,60,70,80,90],"title":"Age"}},"y":{"field":"g","type":"quantitative","scale":{"domain":[-1,1.5],"nice":false,"zero":false},"axis":{"values":[-1,-0.5,0,0.5,1,1.5],"format":".1f","title":"BOLD Parameter Estimate"}}}},
{"data":{"name":"stats"},"mark":{"type":"text","align":"left","baseline":"top","dx":6,"dy":6,"fontSize":9,"color":"#333333"},
"encoding":{"x":{"datum":17,"type":"quantitative","scale":{"domain":[16.8,91.1],"nice":false,"zero":false},"axis":{"values":[20,30,40,50,60,70,80,90],"title":"Age"}},"y":{"datum":1.5,"type":"quantitative","scale":{"domain":[-1,1.5],"nice":false,"zero":false},"axis":{"values":[-1,-0.5,0,0.5,1,1.5],"format":".1f","title":"BOLD Parameter Estimate"}},"text":{"field":"rg","type":"nominal"}}}
]},
{"width":279,"height":195,"title":"h) Right Middle Frontal",
"layer":[
{"data":{"name":"subjects"},"mark":{"type":"circle","size":30,"color":"#a0a0a0","opacity":0.85,"stroke":"#4d4d4d","strokeWidth":0.8},
"encoding":{"x":{"field":"age","type":"quantitative","scale":{"domain":[16.8,91.1],"nice":false,"zero":false},"axis":{"values":[20,30,40,50,60,70,80,90],"title":"Age"}},"y":{"field":"h","type":"quantitative","scale":{"domain":[-1.5,1.5],"nice":false,"zero":false},"axis":{"values":[-1.5,-1,-0.5,0,0.5,1,1.5],"format":".1f","title":"BOLD Parameter Estimate"}}}},
{"data":{"name":"fits"},"mark":{"type":"line","color":"#000000","strokeWidth":1.6},
"encoding":{"x":{"field":"age","type":"quantitative","scale":{"domain":[16.8,91.1],"nice":false,"zero":false},"axis":{"values":[20,30,40,50,60,70,80,90],"title":"Age"}},"y":{"field":"h","type":"quantitative","scale":{"domain":[-1.5,1.5],"nice":false,"zero":false},"axis":{"values":[-1.5,-1,-0.5,0,0.5,1,1.5],"format":".1f","title":"BOLD Parameter Estimate"}}}},
{"data":{"name":"stats"},"mark":{"type":"text","align":"left","baseline":"top","dx":6,"dy":6,"fontSize":9,"color":"#333333"},
"encoding":{"x":{"datum":17,"type":"quantitative","scale":{"domain":[16.8,91.1],"nice":false,"zero":false},"axis":{"values":[20,30,40,50,60,70,80,90],"title":"Age"}},"y":{"datum":1.5,"type":"quantitative","scale":{"domain":[-1.5,1.5],"nice":false,"zero":false},"axis":{"values":[-1.5,-1,-0.5,0,0.5,1,1.5],"format":".1f","title":"BOLD Parameter Estimate"}},"text":{"field":"rh","type":"nominal"}}}
]}
]
}
